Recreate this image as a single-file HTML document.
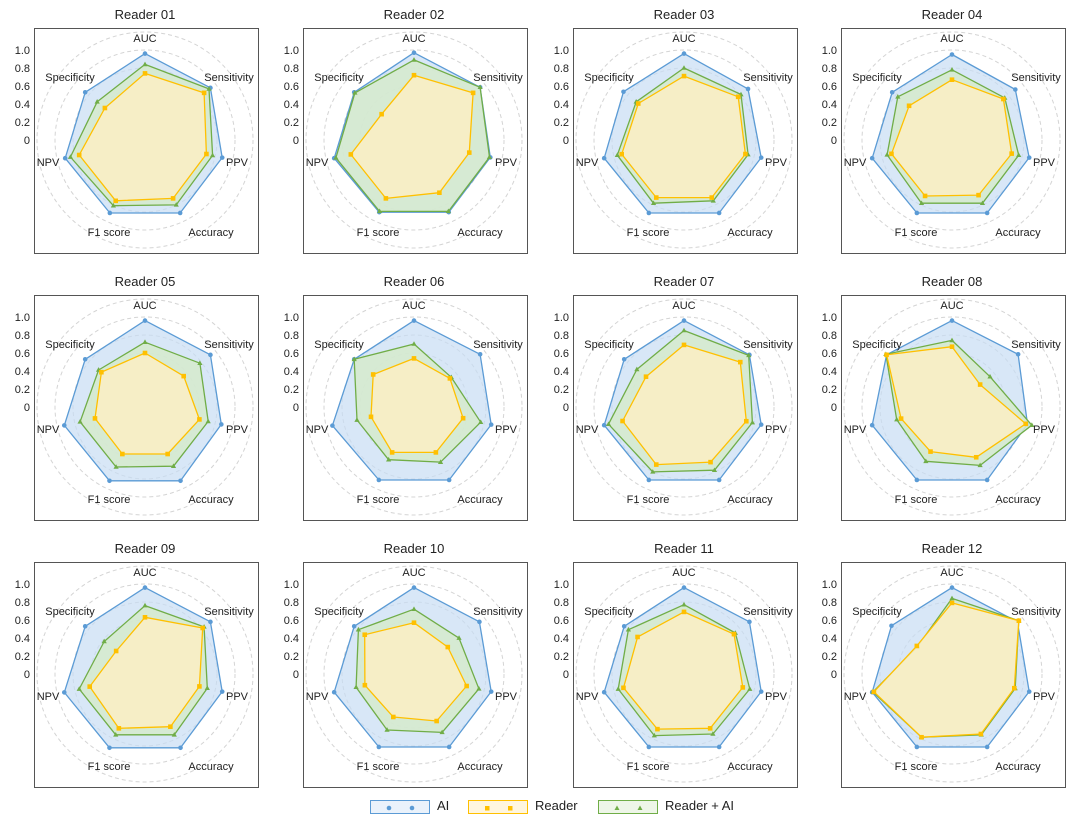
<!DOCTYPE html>
<html><head><meta charset="utf-8">
<style>
html,body{margin:0;padding:0;background:#fff;}
body{width:1080px;height:828px;position:relative;overflow:hidden;font-family:"Liberation Sans",sans-serif;}
svg.p{position:absolute;width:270px;height:260px;overflow:visible;}
svg text{font-family:"Liberation Sans",sans-serif;fill:#222;}
.t{font-size:13px;text-anchor:middle;}
.k{font-size:11px;text-anchor:end;}
.l{font-size:11px;text-anchor:middle;}
.leg{position:absolute;top:800px;height:12px;width:58px;border:1px solid;}
.lt{position:absolute;top:798px;font-size:13px;color:#222;}
</style></head><body>

<svg class="p" id="p1" style="left:0;top:0"><text class="t" x="145" y="19">Reader 01</text><g class="g"></g><rect x="34.5" y="28.5" width="224" height="225" fill="none" stroke="#555"/><text class="k" x="30" y="54">1.0</text><text class="k" x="30" y="72">0.8</text><text class="k" x="30" y="90">0.6</text><text class="k" x="30" y="108">0.4</text><text class="k" x="30" y="126">0.2</text><text class="k" x="30" y="144">0</text><text class="l" x="145" y="42">AUC</text><text class="l" x="229" y="81">Sensitivity</text><text class="l" x="237" y="166">PPV</text><text class="l" x="211" y="236">Accuracy</text><text class="l" x="109" y="236">F1 score</text><text class="l" x="48" y="166">NPV</text><text class="l" x="70" y="81">Specificity</text></svg>
<svg class="p" id="p2" style="left:269px;top:0"><text class="t" x="145" y="19">Reader 02</text><g class="g"></g><rect x="34.5" y="28.5" width="224" height="225" fill="none" stroke="#555"/><text class="k" x="30" y="54">1.0</text><text class="k" x="30" y="72">0.8</text><text class="k" x="30" y="90">0.6</text><text class="k" x="30" y="108">0.4</text><text class="k" x="30" y="126">0.2</text><text class="k" x="30" y="144">0</text><text class="l" x="145" y="42">AUC</text><text class="l" x="229" y="81">Sensitivity</text><text class="l" x="237" y="166">PPV</text><text class="l" x="211" y="236">Accuracy</text><text class="l" x="109" y="236">F1 score</text><text class="l" x="48" y="166">NPV</text><text class="l" x="70" y="81">Specificity</text></svg>
<svg class="p" id="p3" style="left:539px;top:0"><text class="t" x="145" y="19">Reader 03</text><g class="g"></g><rect x="34.5" y="28.5" width="224" height="225" fill="none" stroke="#555"/><text class="k" x="30" y="54">1.0</text><text class="k" x="30" y="72">0.8</text><text class="k" x="30" y="90">0.6</text><text class="k" x="30" y="108">0.4</text><text class="k" x="30" y="126">0.2</text><text class="k" x="30" y="144">0</text><text class="l" x="145" y="42">AUC</text><text class="l" x="229" y="81">Sensitivity</text><text class="l" x="237" y="166">PPV</text><text class="l" x="211" y="236">Accuracy</text><text class="l" x="109" y="236">F1 score</text><text class="l" x="48" y="166">NPV</text><text class="l" x="70" y="81">Specificity</text></svg>
<svg class="p" id="p4" style="left:807px;top:0"><text class="t" x="145" y="19">Reader 04</text><g class="g"></g><rect x="34.5" y="28.5" width="224" height="225" fill="none" stroke="#555"/><text class="k" x="30" y="54">1.0</text><text class="k" x="30" y="72">0.8</text><text class="k" x="30" y="90">0.6</text><text class="k" x="30" y="108">0.4</text><text class="k" x="30" y="126">0.2</text><text class="k" x="30" y="144">0</text><text class="l" x="145" y="42">AUC</text><text class="l" x="229" y="81">Sensitivity</text><text class="l" x="237" y="166">PPV</text><text class="l" x="211" y="236">Accuracy</text><text class="l" x="109" y="236">F1 score</text><text class="l" x="48" y="166">NPV</text><text class="l" x="70" y="81">Specificity</text></svg>

<svg class="p" id="p5" style="left:0;top:267px"><text class="t" x="145" y="19">Reader 05</text><g class="g"></g><rect x="34.5" y="28.5" width="224" height="225" fill="none" stroke="#555"/><text class="k" x="30" y="54">1.0</text><text class="k" x="30" y="72">0.8</text><text class="k" x="30" y="90">0.6</text><text class="k" x="30" y="108">0.4</text><text class="k" x="30" y="126">0.2</text><text class="k" x="30" y="144">0</text><text class="l" x="145" y="42">AUC</text><text class="l" x="229" y="81">Sensitivity</text><text class="l" x="237" y="166">PPV</text><text class="l" x="211" y="236">Accuracy</text><text class="l" x="109" y="236">F1 score</text><text class="l" x="48" y="166">NPV</text><text class="l" x="70" y="81">Specificity</text></svg>
<svg class="p" id="p6" style="left:269px;top:267px"><text class="t" x="145" y="19">Reader 06</text><g class="g"></g><rect x="34.5" y="28.5" width="224" height="225" fill="none" stroke="#555"/><text class="k" x="30" y="54">1.0</text><text class="k" x="30" y="72">0.8</text><text class="k" x="30" y="90">0.6</text><text class="k" x="30" y="108">0.4</text><text class="k" x="30" y="126">0.2</text><text class="k" x="30" y="144">0</text><text class="l" x="145" y="42">AUC</text><text class="l" x="229" y="81">Sensitivity</text><text class="l" x="237" y="166">PPV</text><text class="l" x="211" y="236">Accuracy</text><text class="l" x="109" y="236">F1 score</text><text class="l" x="48" y="166">NPV</text><text class="l" x="70" y="81">Specificity</text></svg>
<svg class="p" id="p7" style="left:539px;top:267px"><text class="t" x="145" y="19">Reader 07</text><g class="g"></g><rect x="34.5" y="28.5" width="224" height="225" fill="none" stroke="#555"/><text class="k" x="30" y="54">1.0</text><text class="k" x="30" y="72">0.8</text><text class="k" x="30" y="90">0.6</text><text class="k" x="30" y="108">0.4</text><text class="k" x="30" y="126">0.2</text><text class="k" x="30" y="144">0</text><text class="l" x="145" y="42">AUC</text><text class="l" x="229" y="81">Sensitivity</text><text class="l" x="237" y="166">PPV</text><text class="l" x="211" y="236">Accuracy</text><text class="l" x="109" y="236">F1 score</text><text class="l" x="48" y="166">NPV</text><text class="l" x="70" y="81">Specificity</text></svg>
<svg class="p" id="p8" style="left:807px;top:267px"><text class="t" x="145" y="19">Reader 08</text><g class="g"></g><rect x="34.5" y="28.5" width="224" height="225" fill="none" stroke="#555"/><text class="k" x="30" y="54">1.0</text><text class="k" x="30" y="72">0.8</text><text class="k" x="30" y="90">0.6</text><text class="k" x="30" y="108">0.4</text><text class="k" x="30" y="126">0.2</text><text class="k" x="30" y="144">0</text><text class="l" x="145" y="42">AUC</text><text class="l" x="229" y="81">Sensitivity</text><text class="l" x="237" y="166">PPV</text><text class="l" x="211" y="236">Accuracy</text><text class="l" x="109" y="236">F1 score</text><text class="l" x="48" y="166">NPV</text><text class="l" x="70" y="81">Specificity</text></svg>

<svg class="p" id="p9" style="left:0;top:534px"><text class="t" x="145" y="19">Reader 09</text><g class="g"></g><rect x="34.5" y="28.5" width="224" height="225" fill="none" stroke="#555"/><text class="k" x="30" y="54">1.0</text><text class="k" x="30" y="72">0.8</text><text class="k" x="30" y="90">0.6</text><text class="k" x="30" y="108">0.4</text><text class="k" x="30" y="126">0.2</text><text class="k" x="30" y="144">0</text><text class="l" x="145" y="42">AUC</text><text class="l" x="229" y="81">Sensitivity</text><text class="l" x="237" y="166">PPV</text><text class="l" x="211" y="236">Accuracy</text><text class="l" x="109" y="236">F1 score</text><text class="l" x="48" y="166">NPV</text><text class="l" x="70" y="81">Specificity</text></svg>
<svg class="p" id="p10" style="left:269px;top:534px"><text class="t" x="145" y="19">Reader 10</text><g class="g"></g><rect x="34.5" y="28.5" width="224" height="225" fill="none" stroke="#555"/><text class="k" x="30" y="54">1.0</text><text class="k" x="30" y="72">0.8</text><text class="k" x="30" y="90">0.6</text><text class="k" x="30" y="108">0.4</text><text class="k" x="30" y="126">0.2</text><text class="k" x="30" y="144">0</text><text class="l" x="145" y="42">AUC</text><text class="l" x="229" y="81">Sensitivity</text><text class="l" x="237" y="166">PPV</text><text class="l" x="211" y="236">Accuracy</text><text class="l" x="109" y="236">F1 score</text><text class="l" x="48" y="166">NPV</text><text class="l" x="70" y="81">Specificity</text></svg>
<svg class="p" id="p11" style="left:539px;top:534px"><text class="t" x="145" y="19">Reader 11</text><g class="g"></g><rect x="34.5" y="28.5" width="224" height="225" fill="none" stroke="#555"/><text class="k" x="30" y="54">1.0</text><text class="k" x="30" y="72">0.8</text><text class="k" x="30" y="90">0.6</text><text class="k" x="30" y="108">0.4</text><text class="k" x="30" y="126">0.2</text><text class="k" x="30" y="144">0</text><text class="l" x="145" y="42">AUC</text><text class="l" x="229" y="81">Sensitivity</text><text class="l" x="237" y="166">PPV</text><text class="l" x="211" y="236">Accuracy</text><text class="l" x="109" y="236">F1 score</text><text class="l" x="48" y="166">NPV</text><text class="l" x="70" y="81">Specificity</text></svg>
<svg class="p" id="p12" style="left:807px;top:534px"><text class="t" x="145" y="19">Reader 12</text><g class="g"></g><rect x="34.5" y="28.5" width="224" height="225" fill="none" stroke="#555"/><text class="k" x="30" y="54">1.0</text><text class="k" x="30" y="72">0.8</text><text class="k" x="30" y="90">0.6</text><text class="k" x="30" y="108">0.4</text><text class="k" x="30" y="126">0.2</text><text class="k" x="30" y="144">0</text><text class="l" x="145" y="42">AUC</text><text class="l" x="229" y="81">Sensitivity</text><text class="l" x="237" y="166">PPV</text><text class="l" x="211" y="236">Accuracy</text><text class="l" x="109" y="236">F1 score</text><text class="l" x="48" y="166">NPV</text><text class="l" x="70" y="81">Specificity</text></svg>

<div class="leg" style="left:370px;border-color:#5b9bd5;background:#eaf2fb"><svg width="58" height="12"><circle cx="18" cy="6" r="2.3" fill="#5b9bd5"/><circle cx="41" cy="6" r="2.3" fill="#5b9bd5"/></svg></div>
<div class="lt" style="left:437px">AI</div>
<div class="leg" style="left:468px;border-color:#ffc000;background:#fff6df"><svg width="58" height="12"><rect x="16" y="4" width="4.5" height="4.5" fill="#ffc000"/><rect x="39" y="4" width="4.5" height="4.5" fill="#ffc000"/></svg></div>
<div class="lt" style="left:535px">Reader</div>
<div class="leg" style="left:598px;border-color:#70ad47;background:#eef6e8"><svg width="58" height="12"><polygon points="18,3.5 20.5,8 15.5,8" fill="#70ad47"/><polygon points="41,3.5 43.5,8 38.5,8" fill="#70ad47"/></svg></div>
<div class="lt" style="left:665px">Reader + AI</div>

<script>
var D={
1:[[.96,.93,.88,.90,.90,.91,.85],[.74,.84,.70,.72,.75,.75,.57],[.84,.91,.77,.80,.81,.85,.68]],
2:[[.97,.94,.87,.89,.89,.91,.85],[.72,.84,.63,.65,.72,.72,.46],[.89,.94,.86,.88,.88,.89,.84]],
3:[[.96,.91,.88,.90,.90,.91,.86],[.71,.77,.70,.71,.71,.71,.65],[.80,.81,.73,.75,.78,.76,.68]],
4:[[.95,.90,.88,.90,.90,.91,.85],[.67,.73,.68,.68,.69,.69,.61],[.78,.75,.76,.78,.78,.74,.77]],
5:[[.96,.93,.87,.91,.91,.92,.85],[.60,.55,.62,.58,.58,.57,.62],[.72,.78,.72,.73,.74,.74,.66]],
6:[[.96,.94,.88,.90,.90,.93,.85],[.54,.51,.56,.56,.56,.49,.58],[.70,.53,.76,.68,.65,.65,.85]],
7:[[.96,.93,.88,.90,.90,.91,.85],[.69,.80,.71,.68,.71,.70,.54],[.85,.92,.78,.78,.80,.86,.67]],
8:[[.96,.94,.86,.90,.90,.91,.93],[.67,.40,.84,.62,.55,.58,.93],[.74,.54,.91,.72,.67,.63,.94]],
9:[[.96,.93,.88,.91,.91,.92,.85],[.63,.82,.62,.65,.67,.63,.41],[.76,.84,.71,.75,.75,.75,.58]],
10:[[.96,.93,.88,.90,.90,.91,.85],[.57,.48,.60,.58,.53,.56,.70],[.72,.64,.74,.72,.69,.66,.79]],
11:[[.96,.93,.88,.90,.90,.91,.85],[.69,.71,.67,.67,.68,.69,.66],[.77,.73,.75,.74,.76,.75,.79]],
12:[[.96,.93,.88,.90,.90,.91,.86],[.79,.95,.71,.74,.78,.89,.50],[.84,.95,.72,.75,.78,.90,.49]]};
var NS="http://www.w3.org/2000/svg",CX=145,CY=140,R=90;
function el(n,a){var e=document.createElementNS(NS,n);for(var k in a)e.setAttribute(k,a[k]);return e;}
function pt(v,k){var a=(-90+k*360/7)*Math.PI/180;return [CX+R*v*Math.cos(a),CY+R*v*Math.sin(a)];}
/* data index: 0 AI, 1 Reader, 2 Reader+AI */
var styles=[["#5b9bd5","rgba(200,221,243,0.7)","c"],["#ffc000","rgba(250,238,196,0.88)","s"],["#70ad47","rgba(214,234,204,0.85)","t"]];
for(var i=1;i<=12;i++){
 var g=document.querySelector("#p"+i+" .g");
 for(var r=1;r<=6;r++)g.appendChild(el("circle",{cx:CX,cy:CY,r:18*r,fill:"none",stroke:"#d4d4d4","stroke-dasharray":"4,3","stroke-width":1}));
 [0,2,1].forEach(function(si){
  var vals=D[i][si],st=styles[si],ps=vals.map(function(v,k){return pt(v,k);});
  g.appendChild(el("polygon",{points:ps.map(function(p){return p[0].toFixed(1)+","+p[1].toFixed(1);}).join(" "),fill:st[1],stroke:st[0],"stroke-width":1.3,"stroke-linejoin":"round"}));
  ps.forEach(function(p){
   if(st[2]=="c")g.appendChild(el("circle",{cx:p[0],cy:p[1],r:2.3,fill:st[0]}));
   else if(st[2]=="s")g.appendChild(el("rect",{x:p[0]-2.3,y:p[1]-2.3,width:4.6,height:4.6,fill:st[0]}));
   else g.appendChild(el("polygon",{points:(p[0])+","+(p[1]-2.8)+" "+(p[0]+2.6)+","+(p[1]+1.8)+" "+(p[0]-2.6)+","+(p[1]+1.8),fill:st[0]}));
  });
 });
}
</script>
</body></html>
